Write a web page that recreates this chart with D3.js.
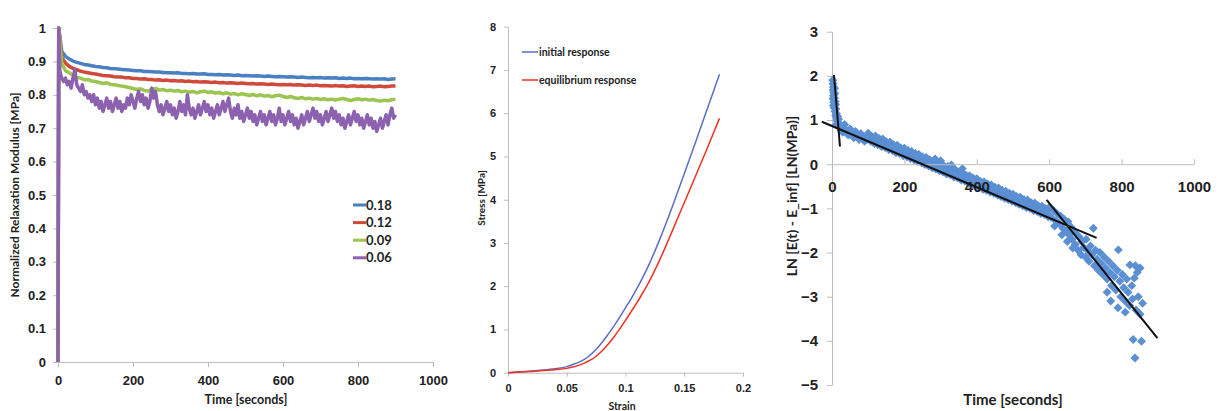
<!DOCTYPE html>
<html>
<head>
<meta charset="utf-8">
<script src="https://cdn.jsdelivr.net/npm/d3@7"></script>
<style>
    body { margin: 0; background: #fff; }
    svg { display: block; font-family: Lato, "Open Sans", sans-serif; font-weight: bold; }
    .axis path, .axis line { stroke: #bdbdbd; }
    .axis text { fill: #222; font-weight: bold; }
</style>
</head>
<body>
<script>
// ---------------------------------------------------------------------------
// data
// ---------------------------------------------------------------------------

// panel 1 : normalized relaxation modulus vs time, one curve per strain level
var strainLevels = ["0.18", "0.12", "0.09", "0.06"];
var levelColors = ["#4a7fc1", "#d04a3c", "#9bc450", "#8c62b0"];

// the first two samples are the loading ramp (t = 0, t = 2)
var rampTimes = [0, 2];
var rampValues = [0, 1];

// sampled every 10 s from t = 10 to t = 900
var relax018 = [
    0.930, 0.915, 0.907, 0.901, 0.897, 0.894, 0.891, 0.889, 0.887, 0.885,
    0.884, 0.882, 0.881, 0.879, 0.878, 0.877, 0.876, 0.875, 0.874, 0.873,
    0.872, 0.872, 0.870, 0.870, 0.869, 0.868, 0.868, 0.867, 0.866, 0.866,
    0.865, 0.866, 0.864, 0.864, 0.863, 0.864, 0.862, 0.862, 0.863, 0.861,
    0.861, 0.860, 0.861, 0.859, 0.860, 0.859, 0.858, 0.859, 0.857, 0.858,
    0.857, 0.856, 0.857, 0.856, 0.855, 0.856, 0.855, 0.854, 0.855, 0.854,
    0.853, 0.854, 0.853, 0.852, 0.853, 0.852, 0.851, 0.852, 0.851, 0.852,
    0.850, 0.851, 0.850, 0.851, 0.849, 0.850, 0.849, 0.850, 0.848, 0.849,
    0.848, 0.849, 0.848, 0.847, 0.848, 0.847, 0.848, 0.846, 0.847, 0.848];

var relax012 = [
    0.912, 0.895, 0.885, 0.879, 0.875, 0.871, 0.868, 0.866, 0.864, 0.862,
    0.860, 0.858, 0.857, 0.856, 0.854, 0.853, 0.853, 0.851, 0.851, 0.849,
    0.849, 0.847, 0.848, 0.846, 0.846, 0.844, 0.845, 0.843, 0.844, 0.842,
    0.843, 0.841, 0.842, 0.840, 0.841, 0.839, 0.840, 0.838, 0.839, 0.838,
    0.837, 0.838, 0.836, 0.837, 0.835, 0.836, 0.835, 0.834, 0.835, 0.834,
    0.833, 0.834, 0.832, 0.833, 0.832, 0.831, 0.832, 0.831, 0.830, 0.831,
    0.830, 0.831, 0.829, 0.830, 0.829, 0.828, 0.829, 0.828, 0.829, 0.827,
    0.828, 0.827, 0.826, 0.828, 0.826, 0.827, 0.825, 0.826, 0.827, 0.825,
    0.826, 0.825, 0.826, 0.824, 0.825, 0.826, 0.824, 0.825, 0.826, 0.826];

var relax009 = [
    0.893, 0.872, 0.866, 0.858, 0.852, 0.850, 0.845, 0.846, 0.841, 0.840,
    0.837, 0.834, 0.836, 0.831, 0.830, 0.828, 0.826, 0.824, 0.822, 0.819,
    0.816, 0.818, 0.813, 0.811, 0.816, 0.819, 0.814, 0.816, 0.812, 0.814,
    0.811, 0.813, 0.809, 0.811, 0.808, 0.810, 0.806, 0.809, 0.811, 0.807,
    0.809, 0.805, 0.807, 0.803, 0.806, 0.802, 0.804, 0.800, 0.803, 0.801,
    0.798, 0.801, 0.797, 0.800, 0.796, 0.798, 0.794, 0.797, 0.799, 0.795,
    0.792, 0.795, 0.791, 0.789, 0.792, 0.788, 0.790, 0.787, 0.789, 0.786,
    0.788, 0.785, 0.787, 0.784, 0.787, 0.789, 0.786, 0.783, 0.786, 0.788,
    0.785, 0.787, 0.784, 0.786, 0.783, 0.781, 0.784, 0.782, 0.785, 0.787];

// sampled every 5 s from t = 5 to t = 900 (much noisier)
var relax006 = [
    0.87, 0.85, 0.84, 0.85, 0.83, 0.84, 0.82, 0.85, 0.875, 0.83,
    0.82, 0.81, 0.83, 0.80, 0.81, 0.79, 0.80, 0.78, 0.80, 0.77,
    0.79, 0.76, 0.78, 0.75, 0.77, 0.79, 0.76, 0.78, 0.75, 0.77,
    0.79, 0.76, 0.78, 0.75, 0.77, 0.76, 0.79, 0.77, 0.80, 0.78,
    0.76, 0.79, 0.81, 0.78, 0.80, 0.77, 0.79, 0.76, 0.78, 0.82,
    0.79, 0.81, 0.77, 0.75, 0.77, 0.74, 0.76, 0.78, 0.75, 0.77,
    0.74, 0.76, 0.73, 0.75, 0.78, 0.75, 0.77, 0.74, 0.80, 0.76,
    0.74, 0.76, 0.73, 0.75, 0.77, 0.74, 0.76, 0.78, 0.75, 0.77,
    0.74, 0.76, 0.73, 0.75, 0.77, 0.74, 0.76, 0.78, 0.75, 0.77,
    0.79, 0.75, 0.73, 0.76, 0.74, 0.77, 0.73, 0.75, 0.72, 0.74,
    0.76, 0.73, 0.75, 0.72, 0.74, 0.71, 0.73, 0.75, 0.72, 0.74,
    0.71, 0.73, 0.75, 0.72, 0.74, 0.71, 0.73, 0.76, 0.72, 0.74,
    0.71, 0.73, 0.75, 0.72, 0.74, 0.71, 0.73, 0.70, 0.72, 0.74,
    0.71, 0.73, 0.75, 0.72, 0.74, 0.76, 0.73, 0.75, 0.72, 0.74,
    0.71, 0.73, 0.75, 0.72, 0.74, 0.76, 0.73, 0.75, 0.72, 0.74,
    0.71, 0.73, 0.70, 0.72, 0.74, 0.71, 0.73, 0.75, 0.72, 0.74,
    0.71, 0.73, 0.70, 0.72, 0.74, 0.71, 0.73, 0.70, 0.72, 0.69,
    0.71, 0.73, 0.70, 0.72, 0.74, 0.71, 0.74, 0.76, 0.73, 0.74];

var relaxTicksX = [0, 200, 400, 600, 800, 1000];
var relaxTicksY = [0, 0.1, 0.2, 0.3, 0.4, 0.5, 0.6, 0.7, 0.8, 0.9, 1];

// panel 2 : stress-strain, initial vs equilibrium response
var responseNames = ["initial response", "equilibrium response"];
var responseColors = ["#5b6ec6", "#ee3124"];
var strainPts = [0, 0.01, 0.02, 0.03, 0.04, 0.05, 0.055, 0.06, 0.065, 0.07,
    0.075, 0.08, 0.085, 0.09, 0.095, 0.1, 0.105, 0.11, 0.115, 0.12,
    0.125, 0.13, 0.135, 0.14, 0.15, 0.16, 0.17, 0.18];
var stressInitial = [0, 0.02, 0.04, 0.06, 0.09, 0.14, 0.19, 0.24, 0.31, 0.41,
    0.54, 0.70, 0.88, 1.07, 1.28, 1.50, 1.72, 1.96, 2.22, 2.50,
    2.81, 3.14, 3.49, 3.85, 4.60, 5.36, 6.13, 6.90];
var stressEquil = [0, 0.015, 0.03, 0.05, 0.07, 0.10, 0.13, 0.17, 0.22, 0.29,
    0.38, 0.50, 0.65, 0.82, 1.01, 1.21, 1.42, 1.63, 1.86, 2.10,
    2.37, 2.66, 2.97, 3.29, 3.93, 4.57, 5.22, 5.88];
var strainTicks = [0, 0.05, 0.1, 0.15, 0.2];
var stressTicks = [0, 1, 2, 3, 4, 5, 6, 7, 8];

// panel 3 : LN[E(t) - E_inf] scatter with three linear fits
var lnPoints = [
    // first seconds, tall blob near the axis
    [2, 1.9], [3, 1.82], [4, 1.75], [3, 1.68], [5, 1.62], [4, 1.55], [3, 1.48],
    [5, 1.4], [4, 1.33], [6, 1.28], [7, 1.72], [8, 1.6], [7, 1.5], [9, 1.42],
    [8, 1.2], [10, 1.35], [11, 1.25], [12, 1.15], [10, 1.1], [13, 1.05],
    [14, 1.0], [15, 0.97], [17, 0.93], [19, 0.9], [12, 0.9], [16, 1.08],
    [18, 1.02], [22, 0.88], [24, 0.84], [26, 0.86], [28, 0.81], [30, 0.83],
    [32, 0.78], [35, 0.8], [38, 0.75], [40, 0.77], [43, 0.72], [46, 0.74],
    [50, 0.7], [53, 0.71], [56, 0.67], [60, 0.68], [64, 0.64], [68, 0.66],
    [72, 0.62], [76, 0.63], [80, 0.6], [84, 0.61], [88, 0.58], [92, 0.59],
    [96, 0.56], [30, 0.72], [45, 0.66], [60, 0.6], [75, 0.56], [90, 0.52],
    [25, 0.76], [35, 0.9], [50, 0.8], [65, 0.74], [80, 0.69],
    // the long, almost linear part
    [100, 0.70], [104, 0.61], [107, 0.52], [110, 0.63], [114, 0.55], [117, 0.47],
    [120, 0.64], [124, 0.52], [127, 0.44], [130, 0.58], [134, 0.48], [137, 0.40],
    [140, 0.57], [144, 0.45], [147, 0.38], [150, 0.51], [154, 0.41], [157, 0.33],
    [160, 0.50], [164, 0.38], [167, 0.31], [170, 0.44], [174, 0.34], [177, 0.26],
    [180, 0.43], [184, 0.31], [187, 0.24], [190, 0.37], [194, 0.27], [197, 0.19],
    [200, 0.36], [204, 0.24], [207, 0.17], [210, 0.31], [214, 0.21], [217, 0.13],
    [220, 0.29], [224, 0.17], [227, 0.10], [230, 0.24], [234, 0.14], [237, 0.06],
    [240, 0.22], [244, 0.10], [247, 0.03], [250, 0.17], [254, 0.07], [257, -0.01],
    [260, 0.15], [264, 0.03], [267, -0.04], [270, 0.10], [274, 0.0], [277, -0.08],
    [280, 0.08], [284, -0.04], [287, -0.11], [290, 0.03], [294, -0.07], [297, -0.15],
    [300, 0.01], [304, -0.11], [307, -0.18], [310, -0.04], [314, -0.14], [317, -0.22],
    [320, -0.05], [324, -0.17], [327, -0.24], [330, -0.11], [334, -0.21], [337, -0.29],
    [340, -0.12], [344, -0.24], [347, -0.31], [350, -0.18], [354, -0.28], [357, -0.36],
    [360, -0.19], [364, -0.31], [367, -0.38], [370, -0.25], [374, -0.35], [377, -0.43],
    [380, -0.26], [384, -0.38], [387, -0.45], [390, -0.32], [394, -0.42], [397, -0.50],
    [400, -0.33], [404, -0.45], [407, -0.52], [410, -0.39], [414, -0.49], [417, -0.57],
    [420, -0.40], [424, -0.52], [427, -0.59], [430, -0.45], [434, -0.55], [437, -0.63],
    [440, -0.47], [444, -0.59], [447, -0.66], [450, -0.52], [454, -0.62], [457, -0.70],
    [460, -0.54], [464, -0.66], [467, -0.73], [470, -0.59], [474, -0.69], [477, -0.77],
    [480, -0.61], [484, -0.73], [487, -0.80], [490, -0.66], [494, -0.76], [497, -0.84],
    [500, -0.68], [504, -0.80], [507, -0.87], [510, -0.73], [514, -0.83], [517, -0.91],
    [520, -0.75], [524, -0.87], [527, -0.94], [530, -0.80], [534, -0.90], [537, -0.98],
    [540, -0.81], [544, -0.93], [547, -1.00], [550, -0.87], [554, -0.97], [557, -1.05],
    [560, -0.88], [564, -1.00], [567, -1.07], [570, -0.94], [574, -1.04], [577, -1.12],
    [580, -0.95], [584, -1.07], [587, -1.14], [590, -1.01], [594, -1.11], [597, -1.19],
    [285, 0.12], [300, 0.08], [330, -0.02], [360, -0.1],
    // the steep, scattered tail
    [600, -0.98], [605, -1.2], [612, -1.05], [618, -1.28], [622, -1.12],
    [628, -1.35], [632, -1.18], [638, -1.45], [642, -1.25], [648, -1.52],
    [652, -1.3], [655, -1.6], [660, -1.42], [663, -1.7], [668, -1.5],
    [672, -1.82], [675, -1.58], [680, -1.95], [683, -1.65], [688, -2.05],
    [690, -1.75], [695, -1.88], [700, -2.1], [702, -1.7], [706, -1.95],
    [710, -2.2], [714, -1.85], [718, -2.05], [722, -1.45], [725, -2.3],
    [728, -1.95], [732, -2.15], [736, -2.4], [740, -2.0], [744, -2.25],
    [748, -2.5], [752, -2.1], [756, -2.35], [760, -2.6], [764, -2.2],
    [768, -2.45], [772, -2.75], [776, -2.3], [780, -2.55], [784, -2.85],
    [788, -2.4], [791, -1.94], [795, -2.65], [798, -3.0], [802, -2.5],
    [806, -2.8], [810, -3.1], [814, -2.6], [818, -2.9], [822, -3.2],
    [823, -2.28], [828, -2.75], [830, -3.05], [832, -3.97], [835, -2.58],
    [837, -4.39], [840, -3.3], [843, -2.45], [846, -3.0], [851, -2.35],
    [851, -3.4], [855, -4.01], [858, -3.15], [838, -2.3], [770, -3.1],
    [790, -3.25], [810, -3.35], [760, -2.9], [615, -1.4], [635, -1.6],
    [650, -1.75], [665, -1.9]];

// each fit is drawn between two end points [time, ln]
var fitLines = [
    [[5.5, 2.02], [22, 0.4]],
    [[-28, 0.96], [731, -1.67]],
    [[593, -0.81], [899, -3.94]]];
var lnTicksX = [0, 200, 400, 600, 800, 1000];
var lnTicksY = [-5, -4, -3, -2, -1, 0, 1, 2, 3];

// ---------------------------------------------------------------------------
// drawing
// ---------------------------------------------------------------------------
var W = 1221, H = 411;

var svg = d3.select("body").append("svg")
    .attr("width", W)
    .attr("height", H);

svg.append("rect").attr("width", W).attr("height", H).attr("fill", "#fff");

//---------------- panel 1 ----------------
var x1 = d3.scaleLinear().domain([0, 1000]).range([58, 433]),
    y1 = d3.scaleLinear().domain([0, 1]).range([362, 28]);

svg.append("g")
    .attr("class", "axis")
    .attr("transform", "translate(0," + y1(0) + ")")
    .call(d3.axisBottom(x1).tickValues(relaxTicksX).tickSize(5)
        .tickPadding(9).tickSizeOuter(0).tickFormat(d3.format("d")))
    .attr("font-size", 13);

svg.append("g")
    .attr("class", "axis")
    .attr("transform", "translate(" + x1(0) + ",0)")
    .call(d3.axisLeft(y1).tickValues(relaxTicksY).tickSize(5)
        .tickPadding(7).tickSizeOuter(0).tickFormat(function(d){ return String(d); }))
    .attr("font-size", 13);

var relaxSeries = [relax018, relax012, relax009];
var relaxLine = d3.line()
    .x(function(d){ return x1(d[0]); })
    .y(function(d){ return y1(d[1]); });

relaxSeries.forEach(function(vals, i){
    var pts = rampTimes.map(function(t, k){ return [t, rampValues[k]]; });
    vals.forEach(function(v, k){ pts.push([10 + 10 * k, v]); });
    svg.append("path")
        .datum(pts)
        .attr("fill", "none")
        .attr("stroke", levelColors[i])
        .attr("stroke-width", 3.5)
        .attr("stroke-linejoin", "round")
        .attr("d", relaxLine);
});

var purplePts = rampTimes.map(function(t, k){ return [t, rampValues[k]]; });
relax006.forEach(function(v, k){ purplePts.push([5 + 5 * k, v]); });
svg.append("path")
    .datum(purplePts)
    .attr("fill", "none")
    .attr("stroke", levelColors[3])
    .attr("stroke-width", 3.5)
    .attr("stroke-linejoin", "round")
    .attr("d", relaxLine);

// legend
strainLevels.forEach(function(name, i){
    var ly = 205 + i * 17.6;
    svg.append("line")
        .attr("x1", 353).attr("x2", 366)
        .attr("y1", ly).attr("y2", ly)
        .attr("stroke", levelColors[i])
        .attr("stroke-width", 3);
    svg.append("text")
        .attr("x", 366).attr("y", ly)
        .attr("dy", "0.36em")
        .attr("font-size", 13)
        .attr("fill", "#222")
        .text(name);
});

svg.append("text")
    .attr("x", 246).attr("y", 404)
    .attr("text-anchor", "middle")
    .attr("font-size", 12.5)
    .attr("fill", "#222")
    .text("Time [seconds]");

svg.append("text")
    .attr("transform", "translate(19,195) rotate(-90)")
    .attr("text-anchor", "middle")
    .attr("font-size", 12)
    .attr("fill", "#222")
    .text("Normalized Relaxation Modulus [MPa]");

//---------------- panel 2 ----------------
var x2 = d3.scaleLinear().domain([0, 0.2]).range([508, 743]),
    y2 = d3.scaleLinear().domain([0, 8]).range([372.7, 26.7]);

svg.append("g")
    .attr("class", "axis")
    .attr("transform", "translate(0," + y2(0) + ")")
    .call(d3.axisBottom(x2).tickValues(strainTicks).tickSize(4)
        .tickPadding(8).tickSizeOuter(0).tickFormat(function(d){ return String(d); }))
    .attr("font-size", 11);

svg.append("g")
    .attr("class", "axis")
    .attr("transform", "translate(" + x2(0) + ",0)")
    .call(d3.axisLeft(y2).tickValues(stressTicks).tickSize(4)
        .tickPadding(8).tickSizeOuter(0))
    .attr("font-size", 11);

var ssLine = d3.line()
    .curve(d3.curveCatmullRom.alpha(0.5))
    .x(function(d){ return x2(d[0]); })
    .y(function(d){ return y2(d[1]); });

[stressInitial, stressEquil].forEach(function(vals, i){
    svg.append("path")
        .datum(strainPts.map(function(s, k){ return [s, vals[k]]; }))
        .attr("fill", "none")
        .attr("stroke", responseColors[i])
        .attr("stroke-width", 1.5)
        .attr("d", ssLine);
});

responseNames.forEach(function(name, i){
    var ly = 52 + i * 28;
    svg.append("line")
        .attr("x1", 522).attr("x2", 538)
        .attr("y1", ly).attr("y2", ly)
        .attr("stroke", responseColors[i])
        .attr("stroke-width", 1.5);
    svg.append("text")
        .attr("x", 539).attr("y", ly)
        .attr("dy", "0.36em")
        .attr("font-size", 10.5)
        .attr("fill", "#222")
        .text(name);
});

svg.append("text")
    .attr("x", 622).attr("y", 410)
    .attr("text-anchor", "middle")
    .attr("font-size", 10.5)
    .attr("fill", "#222")
    .text("Strain");

svg.append("text")
    .attr("transform", "translate(485,198) rotate(-90)")
    .attr("text-anchor", "middle")
    .attr("font-size", 10)
    .attr("fill", "#222")
    .text("Stress [MPa]");

//---------------- panel 3 ----------------
var x3 = d3.scaleLinear().domain([0, 1000]).range([832, 1194]),
    y3 = d3.scaleLinear().domain([-5, 3]).range([385, 31.7]);

svg.append("g")
    .attr("class", "axis")
    .attr("transform", "translate(" + x3(0) + ",0)")
    .call(d3.axisLeft(y3).tickValues(lnTicksY).tickSize(5)
        .tickPadding(9).tickSizeOuter(0))
    .attr("font-size", 15);

var lnX = svg.append("g")
    .attr("class", "axis")
    .attr("transform", "translate(0," + y3(0) + ")")
    .call(d3.axisBottom(x3).tickValues(lnTicksX).tickSize(-5)
        .tickPadding(17).tickSizeOuter(0).tickFormat(d3.format("d")))
    .attr("font-size", 15);

svg.selectAll(".axis .domain").attr("stroke", "#bdbdbd");
svg.selectAll(".axis text").attr("fill", "#222");

svg.append("g")
    .selectAll("path")
    .data(lnPoints)
    .join("path")
    .attr("d", d3.symbol().type(d3.symbolSquare).size(40))
    .attr("transform", function(d){
        return "translate(" + x3(d[0]) + "," + y3(d[1]) + ") rotate(45)";
    })
    .attr("fill", "#5b8fd4");

// tick labels of the x axis sit over the points, as in the original
lnX.raise();

svg.append("g")
    .selectAll("line")
    .data(fitLines)
    .join("line")
    .attr("x1", function(d){ return x3(d[0][0]); })
    .attr("y1", function(d){ return y3(d[0][1]); })
    .attr("x2", function(d){ return x3(d[1][0]); })
    .attr("y2", function(d){ return y3(d[1][1]); })
    .attr("stroke", "#111")
    .attr("stroke-width", 2);

svg.append("text")
    .attr("x", 1013).attr("y", 405)
    .attr("text-anchor", "middle")
    .attr("font-size", 15)
    .attr("fill", "#222")
    .text("Time [seconds]");

svg.append("text")
    .attr("transform", "translate(797,196) rotate(-90)")
    .attr("text-anchor", "middle")
    .attr("font-size", 14)
    .attr("fill", "#222")
    .text("LN [E(t) - E_inf] [LN(MPa)]");
</script>
</body>
</html>
